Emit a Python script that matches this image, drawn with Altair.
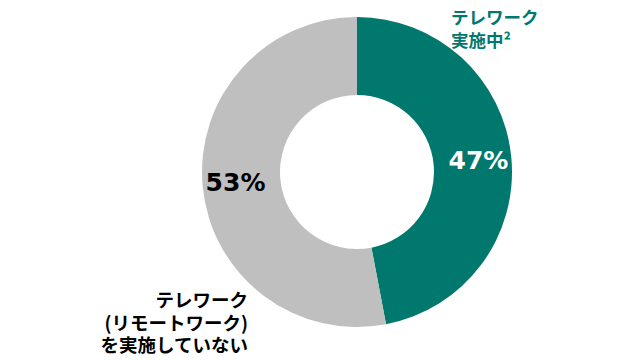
import altair as alt
import pandas as pd

categories = ["テレワーク実施中", "テレワークを実施していない"]
values = [47, 53]
pct_labels = ["47%", "53%"]
colors = ["#00786E", "#BFBFBF"]
text_colors = ["#FFFFFF", "#000000"]

label_top = ["テレワーク", "実施中²"]
label_bottom = ["テレワーク", "(リモートワーク)", "を実施していない"]

df = pd.DataFrame({
    "category": categories,
    "value": values,
    "label": pct_labels,
    "order": [0, 1],
    "tcolor": text_colors,
})

W, H = 624, 352
cx, cy = 349, 164

base = alt.Chart(df).encode(
    theta=alt.Theta("value:Q", stack=True),
    order=alt.Order("order:Q"),
)

arcs = base.mark_arc(outerRadius=155, innerRadius=77, stroke=None).encode(
    color=alt.Color("category:N", scale=alt.Scale(domain=categories, range=colors), legend=None),
    x=alt.value(cx),
    y=alt.value(cy),
)

pct = base.mark_text(radius=122, fontSize=25, fontWeight="bold", font="DejaVu Sans").encode(
    text="label:N",
    color=alt.Color("tcolor:N", scale=None),
    x=alt.value(cx),
    y=alt.value(cy),
)

top_lbl = alt.Chart(pd.DataFrame({"t": [label_top]})).mark_text(
    align="left", baseline="middle", fontSize=17.5, fontWeight="bold",
    font="Noto Sans CJK JP", color="#00786E", lineHeight=23,
).encode(text="t", x=alt.value(443), y=alt.value(11))

bot_lbl = alt.Chart(pd.DataFrame({"t": [label_bottom]})).mark_text(
    align="right", baseline="middle", fontSize=18.5, fontWeight="bold",
    font="Noto Sans CJK JP", color="#000000", lineHeight=22.5,
).encode(text="t", x=alt.value(240), y=alt.value(293))

chart = alt.layer(arcs, pct, top_lbl, bot_lbl).properties(
    width=W, height=H, padding=0, autosize=alt.AutoSizeParams(type="none"),
).configure_view(stroke=None)

chart.save("out.html", embed_options={"renderer": "svg", "actions": False})
